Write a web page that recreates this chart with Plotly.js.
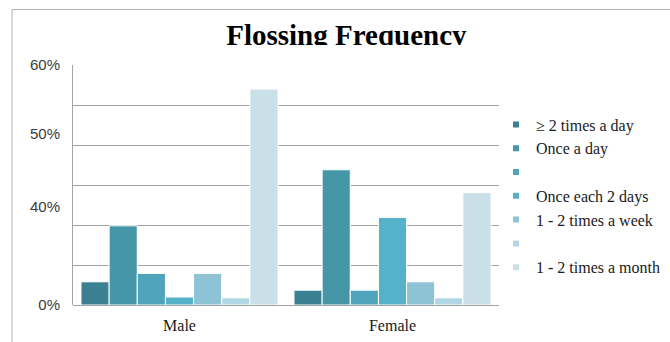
<!DOCTYPE html>
<html>
<head>
<meta charset="utf-8">
<script src="https://cdn.plot.ly/plotly-3.0.1.min.js"></script>
<style>
  html, body { margin: 0; padding: 0; background: #fff; }
  #wrap { position: relative; width: 670px; height: 342px; }
  #chart { width: 670px; height: 342px; }
  /* the title band is cut just under the baseline */
  #titleCut { position: absolute; left: 215px; top: 45px; width: 270px; height: 12px; background: #fff; pointer-events: none; }
</style>
</head>
<body>
<div id="wrap">
  <div id="chart"></div>
  <div id="titleCut"></div>
</div>
<script>
// Survey groups on the x axis
const categories = ['Male', 'Female'];

// Frequency classes (two classes carry no label in the key)
const seriesNames = ['≥ 2 times a day', 'Once a day', '', 'Once each 2 days', '1 - 2 times a week', '', '1 - 2 times a month'];

// Share of respondents (%), Male then Female
const twicePlusDaily = [5.8, 3.7];
const onceDaily      = [19.8, 33.8];
const unlabelledA    = [7.9, 3.7];
const everyTwoDays   = [2.0, 21.9];
const weekly         = [7.9, 5.8];
const unlabelledB    = [1.8, 1.8];
const monthly        = [54.0, 28.1];

// Labels printed on the value axis
const yTickText = ['0%', '40%', '50%', '60%'];

const seriesValues = [twicePlusDaily, onceDaily, unlabelledA, everyTwoDays, weekly, unlabelledB, monthly];
const seriesColors = ['#3b7f93', '#4597a8', '#4fa3ba', '#56b2cb', '#8ec3d6', '#b0d7e3', '#c9e0e8'];

const traces = [];
seriesValues.forEach((vals, i) => {
  traces.push({
    type: 'bar',
    x: categories,
    y: vals,
    name: seriesNames[i],
    legendgroup: 'g' + i,
    showlegend: false,
    marker: { color: seriesColors[i], line: { color: '#ffffff', width: 1 } },
    hoverinfo: 'skip'
  });
});
// small square keys for the legend
seriesValues.forEach((vals, i) => {
  traces.push({
    type: 'scatter',
    mode: 'markers',
    x: [null],
    y: [null],
    name: seriesNames[i],
    legendgroup: 'g' + i,
    showlegend: true,
    marker: { symbol: 'square', size: 6, color: seriesColors[i] },
    hoverinfo: 'skip'
  });
});
// label-only axis carrying the printed percentages
traces.push({
  type: 'scatter', mode: 'markers', x: [categories[0]], y: [null],
  yaxis: 'y2', showlegend: false, hoverinfo: 'skip'
});

const gridGrey = '#a3a3a3';

const layout = {
  width: 670,
  height: 342,
  margin: { l: 73, r: 171, t: 65, b: 37, autoexpand: false },
  paper_bgcolor: '#ffffff',
  plot_bgcolor: '#ffffff',
  showlegend: true,
  barmode: 'group',
  bargap: 0.075,
  bargroupgap: 0,
  title: {
    text: '<b>Flossing Frequency</b>',
    font: { family: 'Liberation Serif, serif', size: 29, color: '#000000' },
    x: 0.517, xref: 'container', xanchor: 'center',
    y: 0.899, yref: 'container', yanchor: 'middle'
  },
  xaxis: {
    type: 'category',
    showgrid: false,
    showline: false,
    zeroline: false,
    ticks: '',
    ticklabelstandoff: 9,
    tickfont: { family: 'Liberation Serif, serif', size: 16, color: '#1a1a1a' }
  },
  yaxis: {
    range: [0, 60],
    dtick: 10,
    showticklabels: false,
    showgrid: true,
    gridcolor: gridGrey,
    gridwidth: 1,
    zeroline: true,
    zerolinecolor: gridGrey,
    zerolinewidth: 1,
    showline: true,
    linecolor: gridGrey,
    linewidth: 1,
    ticks: ''
  },
  yaxis2: {
    overlaying: 'y',
    side: 'left',
    range: [0, 60],
    tickmode: 'array',
    tickvals: [0, 24.6, 42.9, 60],
    ticktext: yTickText,
    showgrid: false,
    zeroline: false,
    showline: false,
    ticks: '',
    ticklabelstandoff: 12,
    tickfont: { family: 'Liberation Sans, sans-serif', size: 15, color: '#3a3a3a' }
  },
  legend: {
    x: 0.993, xanchor: 'left',
    y: 0.823, yanchor: 'top',
    bgcolor: 'rgba(0,0,0,0)',
    borderwidth: 0,
    tracegroupgap: 0,
    font: { family: 'Liberation Serif, serif', size: 16, color: '#1a1a1a' }
  },
  shapes: [
    { type: 'line', xref: 'paper', yref: 'paper', x0: -0.1432, x1: 1.41, y0: 1.2313, y1: 1.2313,
      line: { color: '#b4b4b4', width: 1 } },
    { type: 'line', xref: 'paper', yref: 'paper', x0: -0.1432, x1: -0.1432, y0: 1.2313, y1: -0.2,
      line: { color: '#b4b4b4', width: 1 } }
  ]
};

Plotly.newPlot('chart', traces, layout, { displayModeBar: false, staticPlot: true });
</script>
</body>
</html>
